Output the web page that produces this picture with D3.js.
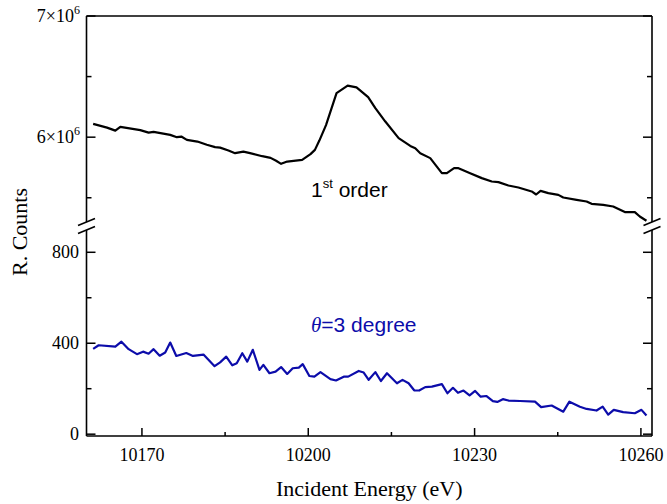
<!DOCTYPE html>
<html>
<head>
  <script src="https://cdn.jsdelivr.net/npm/d3@7"></script>
  <style>
    body { margin: 0; background: #fff; }
    svg { display: block; }
    .tick-label { font-family: "Liberation Serif", "Times New Roman", serif; font-size: 18px; fill: #000; }
    .axis-title { font-family: "Liberation Serif", "Times New Roman", serif; font-size: 22px; fill: #000; }
    .note { font-family: "Liberation Sans", Arial, sans-serif; font-size: 21px; }
  </style>
</head>
<body>
  <div id="chart"></div>
  <script>
    // 1st order scan (counts)
    const firstEnergy = [10161.2, 10163.7, 10165.2, 10166.1, 10169.7, 10171.2, 10172.1, 10175.1, 10176.3, 10177.1,
      10178.1, 10180.0, 10181.7, 10183.2, 10184.1, 10185.6, 10186.8, 10188.3, 10189.5, 10191.7,
      10193.2, 10194.2, 10195.1, 10196.2, 10198.9, 10200.4, 10201.2, 10202.0, 10203.2, 10205.1,
      10207.1, 10208.7, 10210.8, 10212.1, 10213.9, 10216.3, 10218.4, 10219.3, 10220.2, 10222.0,
      10224.1, 10225.0, 10226.3, 10227.1, 10229.2, 10231.3, 10233.1, 10234.3, 10236.1, 10237.9,
      10240.3, 10241.1, 10241.9, 10243.3, 10245.1, 10246.0, 10248.4, 10250.2, 10251.1, 10253.2,
      10255.0, 10257.1, 10258.9, 10259.8, 10261.0];
    const firstCounts = [6.110e6, 6.079e6, 6.054e6, 6.085e6, 6.058e6, 6.038e6, 6.044e6, 6.019e6, 6.000e6, 6.005e6,
      5.978e6, 5.964e6, 5.937e6, 5.918e6, 5.914e6, 5.890e6, 5.868e6, 5.881e6, 5.868e6, 5.843e6,
      5.829e6, 5.805e6, 5.780e6, 5.799e6, 5.813e6, 5.860e6, 5.895e6, 5.972e6, 6.100e6, 6.363e6,
      6.425e6, 6.411e6, 6.330e6, 6.239e6, 6.129e6, 5.992e6, 5.928e6, 5.909e6, 5.868e6, 5.827e6,
      5.703e6, 5.703e6, 5.744e6, 5.744e6, 5.703e6, 5.662e6, 5.634e6, 5.629e6, 5.601e6, 5.585e6,
      5.552e6, 5.527e6, 5.557e6, 5.538e6, 5.524e6, 5.502e6, 5.483e6, 5.469e6, 5.450e6, 5.442e6,
      5.428e6, 5.382e6, 5.382e6, 5.345e6, 5.310e6];

    // theta = 3 degree scan (counts)
    const thetaEnergy = [10161.2, 10162.2, 10165.2, 10166.3, 10167.6, 10169.1, 10170.2, 10171.2, 10172.1, 10173.2,
      10174.2, 10175.1, 10176.2, 10178.0, 10179.2, 10181.1, 10183.1, 10184.1, 10185.2, 10186.3,
      10187.1, 10188.1, 10189.0, 10190.0, 10191.2, 10191.9, 10193.0, 10194.1, 10195.1, 10196.2,
      10197.2, 10198.3, 10199.0, 10200.2, 10201.1, 10202.2, 10204.0, 10205.0, 10206.4, 10207.2,
      10209.1, 10210.0, 10210.9, 10212.1, 10213.1, 10214.2, 10216.0, 10217.0, 10218.1, 10219.1,
      10220.0, 10221.1, 10222.3, 10224.1, 10225.1, 10226.1, 10227.0, 10228.0, 10229.1, 10230.1,
      10231.1, 10232.1, 10233.3, 10234.1, 10235.1, 10236.1, 10238.2, 10240.9, 10242.0, 10243.9,
      10246.0, 10247.1, 10249.0, 10250.2, 10252.0, 10253.1, 10254.1, 10255.1, 10256.8, 10258.9,
      10260.1, 10261.0];
    const thetaCounts = [375, 391, 385, 407, 374, 352, 363, 354, 374, 345,
      359, 403, 344, 357, 344, 350, 299, 316, 341, 303,
      312, 356, 319, 371, 283, 305, 268, 275, 295, 265,
      290, 293, 308, 256, 253, 273, 242, 236, 253, 253,
      278, 271, 239, 273, 234, 268, 224, 239, 224, 193,
      192, 207, 209, 220, 180, 204, 182, 192, 171, 190,
      165, 168, 145, 142, 154, 148, 146, 143, 119, 126,
      99, 143, 121, 111, 104, 121, 86, 107, 97, 92,
      107, 82];

    const xTicks = [10170, 10200, 10230, 10260];
    const xMinor = [10185, 10215, 10245];
    const topTicks = [6e6, 7e6];
    const topMinor = [5.5e6, 6.5e6];
    const bottomTicks = [0, 400, 800];
    const bottomMinor = [200, 600];

    const W = 667, H = 504;
    const mLeft = 86.5, mRight = 652, mTop = 16, mBottom = 436;
    const breakTop = 222, breakBottom = 230;

    const svg = d3.select("#chart").append("svg").attr("width", W).attr("height", H);

    const x = d3.scaleLinear().domain([10160, 10262]).range([mLeft, mRight]);
    const yTop = d3.scaleLinear().domain([5.3e6, 7e6]).range([breakTop, mTop]);
    const yBot = d3.scaleLinear().domain([-8, 898]).range([mBottom, breakBottom]);

    // curves
    const lineTop = d3.line().x(d => x(d[0])).y(d => yTop(d[1]));
    const lineBot = d3.line().x(d => x(d[0])).y(d => yBot(d[1]));

    svg.append("path")
      .attr("d", lineTop(d3.zip(firstEnergy, firstCounts)))
      .attr("fill", "none").attr("stroke", "#000").attr("stroke-width", 2.2)
      .attr("stroke-linejoin", "round");

    svg.append("path")
      .attr("d", lineBot(d3.zip(thetaEnergy, thetaCounts)))
      .attr("fill", "none").attr("stroke", "#0c0caa").attr("stroke-width", 2.2)
      .attr("stroke-linejoin", "round");

    // frame
    const frame = svg.append("g").attr("stroke", "#000").attr("stroke-width", 1.6).attr("fill", "none");
    frame.append("line").attr("x1", mLeft).attr("x2", mRight).attr("y1", mTop).attr("y2", mTop);
    frame.append("line").attr("x1", mLeft).attr("x2", mRight).attr("y1", mBottom).attr("y2", mBottom);
    [mLeft, mRight].forEach(xx => {
      frame.append("line").attr("x1", xx).attr("x2", xx).attr("y1", mTop).attr("y2", breakTop);
      frame.append("line").attr("x1", xx).attr("x2", xx).attr("y1", breakBottom).attr("y2", mBottom);
      [breakTop, breakBottom].forEach(yy => {
        frame.append("line")
          .attr("x1", xx - 8.5).attr("y1", yy + 3.5)
          .attr("x2", xx + 8.5).attr("y2", yy - 3.5);
      });
    });

    // ticks (inward)
    const ticks = svg.append("g").attr("stroke", "#000").attr("stroke-width", 1.5);
    const yTick = (scale, v, len) => {
      ticks.append("line").attr("x1", mLeft).attr("x2", mLeft + len).attr("y1", scale(v)).attr("y2", scale(v));
      ticks.append("line").attr("x1", mRight).attr("x2", mRight - len).attr("y1", scale(v)).attr("y2", scale(v));
    };
    topTicks.forEach(v => yTick(yTop, v, 9));
    topMinor.forEach(v => yTick(yTop, v, 5));
    bottomTicks.forEach(v => yTick(yBot, v, 9));
    bottomMinor.forEach(v => yTick(yBot, v, 5));
    xTicks.forEach(v => ticks.append("line").attr("x1", x(v)).attr("x2", x(v)).attr("y1", mBottom).attr("y2", mBottom - 8));
    xMinor.forEach(v => ticks.append("line").attr("x1", x(v)).attr("x2", x(v)).attr("y1", mBottom).attr("y2", mBottom - 4));

    // tick labels
    xTicks.forEach(v => svg.append("text").attr("class", "tick-label")
      .attr("x", x(v)).attr("y", mBottom + 25).attr("text-anchor", "middle").text(v));

    bottomTicks.forEach(v => svg.append("text").attr("class", "tick-label")
      .attr("x", 79).attr("y", yBot(v) + 6).attr("text-anchor", "end").text(v));

    topTicks.forEach(v => {
      const t = svg.append("text").attr("class", "tick-label")
        .attr("x", 80).attr("y", yTop(v) + 6).attr("text-anchor", "end");
      t.append("tspan").text(`${v / 1e6}\u00d710`);
      t.append("tspan").attr("font-size", 12).attr("dy", -8).text("6");
    });

    // axis titles
    svg.append("text").attr("class", "axis-title")
      .attr("x", (mLeft + mRight) / 2).attr("y", 496).attr("text-anchor", "middle")
      .text("Incident Energy (eV)");
    svg.append("text").attr("class", "axis-title")
      .attr("transform", "translate(27,232) rotate(-90)").attr("text-anchor", "middle")
      .text("R. Counts");

    // annotations
    const n1 = svg.append("text").attr("class", "note").attr("x", 311).attr("y", 197).attr("fill", "#000");
    n1.append("tspan").text("1");
    n1.append("tspan").attr("font-size", 13).attr("dy", -9).text("st");
    n1.append("tspan").attr("dy", 9).text(" order");

    const n2 = svg.append("text").attr("class", "note").attr("x", 311).attr("y", 332).attr("fill", "#0c0caa");
    n2.append("tspan").attr("font-family", "'Liberation Serif', serif").attr("font-style", "italic").text("\u03b8");
    n2.append("tspan").text("=3 degree");
  </script>
</body>
</html>
